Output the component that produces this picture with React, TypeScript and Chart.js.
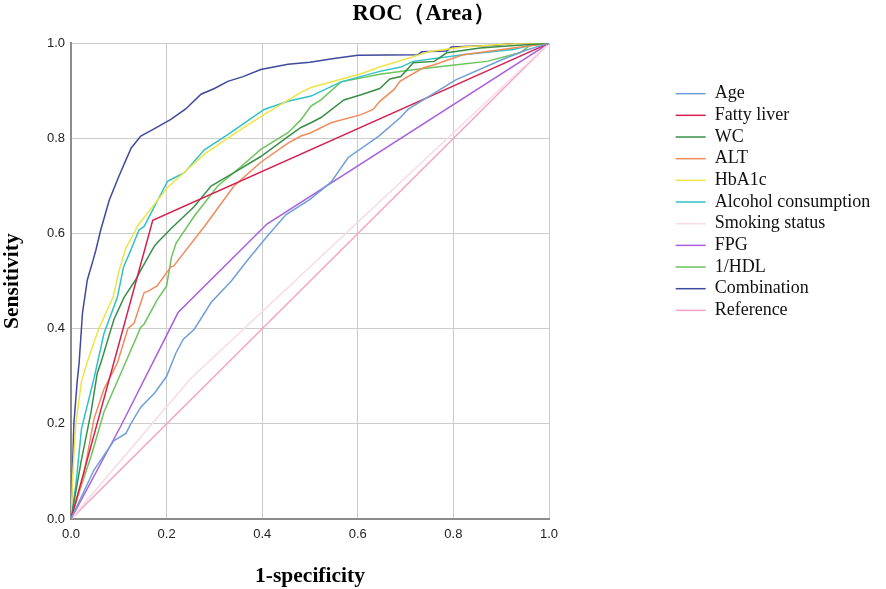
import { useEffect, useRef } from "react";
import { Chart, registerables } from "chart.js";

Chart.register(...registerables);

// ---- data ----
const seriesLabels = [
  "Age",
  "Fatty liver",
  "WC",
  "ALT",
  "HbA1c",
  "Alcohol consumption",
  "Smoking status",
  "FPG",
  "1/HDL",
  "Combination",
  "Reference",
];

const seriesColors = [
  "#6f9fd8",
  "#d6204e",
  "#3a8f48",
  "#f28b5b",
  "#eee445",
  "#2fc1c7",
  "#f9d9e8",
  "#a95fe0",
  "#6cc45c",
  "#3f4a9c",
  "#f4a3c4",
];

const ageX = [0, 0.048, 0.09, 0.115, 0.125, 0.146, 0.175, 0.2, 0.22, 0.235, 0.258, 0.293, 0.335, 0.37, 0.41, 0.45, 0.5, 0.544, 0.58, 0.644, 0.688, 0.705, 0.805, 0.9, 0.95, 1];
const ageY = [0, 0.103, 0.165, 0.18, 0.2, 0.235, 0.265, 0.3, 0.35, 0.378, 0.399, 0.455, 0.5, 0.545, 0.594, 0.64, 0.672, 0.708, 0.76, 0.805, 0.843, 0.861, 0.923, 0.965, 0.985, 1];

const fattyX = [0, 0.171, 1];
const fattyY = [0, 0.628, 1];

const wcX = [0, 0.021, 0.042, 0.055, 0.063, 0.083, 0.09, 0.111, 0.136, 0.146, 0.174, 0.18, 0.209, 0.258, 0.293, 0.341, 0.397, 0.454, 0.481, 0.502, 0.523, 0.571, 0.607, 0.646, 0.667, 0.69, 0.716, 0.76, 0.786, 0.856, 0.92, 1];
const wcY = [0, 0.12, 0.225, 0.307, 0.33, 0.397, 0.42, 0.466, 0.504, 0.523, 0.573, 0.58, 0.61, 0.657, 0.7, 0.728, 0.762, 0.804, 0.823, 0.833, 0.844, 0.881, 0.892, 0.905, 0.925, 0.93, 0.959, 0.962, 0.98, 0.99, 0.995, 1];

const altX = [0, 0.025, 0.048, 0.069, 0.097, 0.119, 0.132, 0.153, 0.16, 0.18, 0.209, 0.215, 0.279, 0.341, 0.397, 0.454, 0.481, 0.502, 0.544, 0.607, 0.632, 0.646, 0.676, 0.688, 0.736, 0.76, 0.82, 0.925, 1];
const altY = [0, 0.084, 0.21, 0.273, 0.328, 0.4, 0.412, 0.476, 0.478, 0.49, 0.53, 0.532, 0.615, 0.7, 0.75, 0.79, 0.805, 0.812, 0.833, 0.85, 0.861, 0.878, 0.903, 0.92, 0.948, 0.955, 0.976, 0.99, 1];

const hba1cX = [0, 0.004, 0.01, 0.022, 0.034, 0.058, 0.088, 0.1, 0.115, 0.135, 0.139, 0.202, 0.279, 0.349, 0.397, 0.481, 0.502, 0.607, 0.646, 0.751, 0.82, 0.925, 1];
const hba1cY = [0, 0.1, 0.2, 0.29, 0.33, 0.4, 0.466, 0.52, 0.57, 0.607, 0.616, 0.697, 0.767, 0.815, 0.846, 0.897, 0.907, 0.936, 0.95, 0.983, 0.992, 0.999, 1];

const alcoholX = [0, 0.01, 0.022, 0.048, 0.069, 0.097, 0.11, 0.125, 0.142, 0.153, 0.202, 0.237, 0.279, 0.328, 0.404, 0.454, 0.502, 0.565, 0.646, 0.69, 0.716, 0.82, 0.925, 0.98, 1];
const alcoholY = [0, 0.07, 0.19, 0.295, 0.39, 0.466, 0.53, 0.565, 0.607, 0.615, 0.71, 0.728, 0.776, 0.808, 0.861, 0.878, 0.889, 0.919, 0.941, 0.95, 0.962, 0.976, 0.987, 1, 1];

const smokingX = [0, 0.25, 1];
const smokingY = [0, 0.295, 1];

const fpgX = [0, 0.104, 0.224, 0.41, 1];
const fpgY = [0, 0.195, 0.434, 0.62, 1];

const hdlX = [0, 0.014, 0.042, 0.069, 0.105, 0.146, 0.153, 0.18, 0.2, 0.21, 0.22, 0.258, 0.307, 0.356, 0.397, 0.454, 0.481, 0.502, 0.523, 0.565, 0.646, 0.72, 0.807, 0.87, 0.939, 0.96, 1];
const hdlY = [0, 0.048, 0.132, 0.225, 0.308, 0.403, 0.41, 0.46, 0.49, 0.55, 0.58, 0.637, 0.7, 0.741, 0.777, 0.812, 0.839, 0.868, 0.881, 0.919, 0.935, 0.945, 0.955, 0.962, 0.98, 0.995, 1];

const comboX = [0, 0.003, 0.006, 0.013, 0.017, 0.024, 0.034, 0.045, 0.052, 0.062, 0.08, 0.1, 0.115, 0.126, 0.146, 0.17, 0.209, 0.24, 0.272, 0.3, 0.328, 0.36, 0.397, 0.454, 0.5, 0.55, 0.6, 0.726, 0.734, 0.786, 0.796, 0.89, 0.925, 1];
const comboY = [0, 0.1, 0.2, 0.29, 0.328, 0.433, 0.502, 0.54, 0.565, 0.607, 0.67, 0.72, 0.755, 0.78, 0.805, 0.818, 0.84, 0.862, 0.893, 0.905, 0.92, 0.93, 0.945, 0.956, 0.96, 0.968, 0.975, 0.976, 0.982, 0.984, 0.992, 0.996, 1, 1];

const referenceX = [0, 1];
const referenceY = [0, 1];

const seriesX = [ageX, fattyX, wcX, altX, hba1cX, alcoholX, smokingX, fpgX, hdlX, comboX, referenceX];
const seriesY = [ageY, fattyY, wcY, altY, hba1cY, alcoholY, smokingY, fpgY, hdlY, comboY, referenceY];

const axisTicks = [0, 0.2, 0.4, 0.6, 0.8, 1.0];

const W = 886;
const H = 589;
const PLOT_RIGHT = 549;
const TITLE_RIGHT_PAD = 38;

export default function App() {
  const ref = useRef<HTMLCanvasElement | null>(null);

  useEffect(() => {
    document.body.style.margin = "0";
    const canvas = ref.current;
    if (!canvas) return;

    const datasets = seriesLabels.map((label, i) => ({
      label,
      data: seriesX[i].map((x, j) => ({ x, y: seriesY[i][j] })),
      borderColor: seriesColors[i],
      backgroundColor: seriesColors[i],
      borderWidth: 1.5,
      pointRadius: 0,
      pointHoverRadius: 0,
      showLine: true,
      fill: false,
      tension: 0,
    }));

    const legendPlacer = {
      id: "legendPlacer",
      beforeInit(chart: any) {
        const lg = chart.legend;
        if (lg && !lg.__patched) {
          const fit = lg.fit;
          lg.fit = function () {
            fit.call(this);
            this.width = W - TITLE_RIGHT_PAD - PLOT_RIGHT;
          };
          lg.__patched = true;
        }
      },
      afterLayout(chart: any) {
        const lg = chart.legend;
        if (lg) {
          lg.left = 672;
          lg.right = W;
          lg.width = W - 672;
          lg.top = 81;
          lg.bottom = H;
          lg.height = H - 81;
        }
      },
    };

    const tickFont = { family: "'Liberation Sans', Arial, sans-serif", size: 13 };
    const titleFont = { family: "'Liberation Serif', 'Times New Roman', serif", size: 21.5, weight: "bold" as const, lineHeight: 1.2 };

    const chart = new Chart(canvas, {
      type: "scatter",
      data: { datasets },
      plugins: [legendPlacer],
      options: {
        responsive: false,
        animation: false,
        events: [],
        layout: { padding: { left: 0, right: TITLE_RIGHT_PAD, top: 0, bottom: 0 } },
        plugins: {
          title: {
            display: true,
            text: "ROC（Area）",
            color: "#000",
            font: { family: "'Liberation Serif', 'Times New Roman', serif", size: 22.5, weight: "bold", lineHeight: 1.2 },
            padding: { top: 1, bottom: 15.3 },
          },
          legend: {
            display: true,
            position: "right",
            align: "start",
            labels: {
              usePointStyle: true,
              pointStyle: "line",
              pointStyleWidth: 30,
              boxHeight: 18,
              padding: 3.67,
              color: "#111",
              font: { family: "'Liberation Serif', 'Times New Roman', serif", size: 18 },
            },
          },
          tooltip: { enabled: false },
        },
        scales: {
          x: {
            type: "linear",
            min: 0,
            max: 1,
            afterFit: (s: any) => {
              s.height = 70;
            },
            afterBuildTicks: (s: any) => {
              s.ticks = axisTicks.map((v) => ({ value: v }));
            },
            ticks: {
              padding: 8,
              color: "#222",
              font: tickFont,
              callback: (v: any) => Number(v).toFixed(1),
            },
            grid: { color: "#cccccc", lineWidth: 1, drawTicks: false },
            border: { color: "#8c8c8c", width: 2 },
            title: {
              display: true,
              text: "1-specificity",
              color: "#000",
              font: titleFont,
              padding: { top: 0, bottom: 0 },
            },
          },
          y: {
            type: "linear",
            min: 0,
            max: 1,
            afterFit: (s: any) => {
              s.width = 71;
            },
            afterBuildTicks: (s: any) => {
              s.ticks = axisTicks.map((v) => ({ value: v }));
            },
            ticks: {
              padding: 6,
              color: "#222",
              font: tickFont,
              callback: (v: any) => Number(v).toFixed(1),
            },
            grid: { color: "#cccccc", lineWidth: 1, drawTicks: false },
            border: { color: "#8c8c8c", width: 2 },
            title: {
              display: true,
              text: "Sensitivity",
              color: "#000",
              font: titleFont,
              padding: { top: 0, bottom: 0 },
            },
          },
        },
      },
    } as any);

    return () => {
      chart.destroy();
    };
  }, []);

  return (
    <div style={{ width: W, height: H, background: "#fff" }}>
      <canvas ref={ref} width={W} height={H} style={{ display: "block" }} />
    </div>
  );
}
